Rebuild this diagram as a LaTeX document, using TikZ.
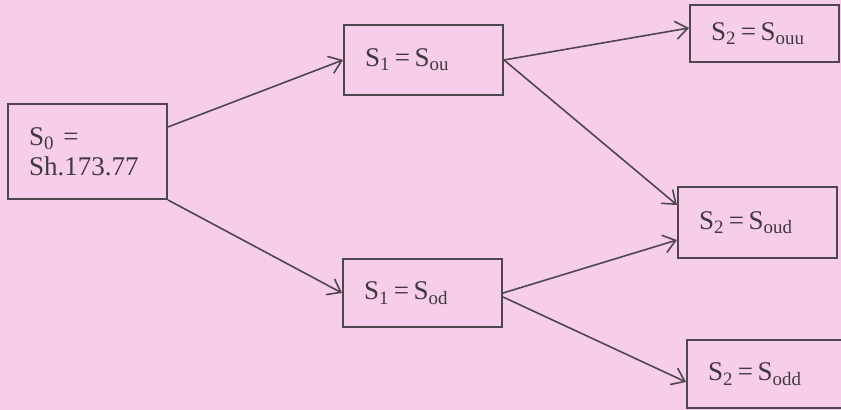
\documentclass[tikz,border=0pt]{standalone}
\usepackage{fontspec}
\setmainfont{Liberation Serif}
\usetikzlibrary{arrows.meta}
\definecolor{paper}{RGB}{246,206,234}
\definecolor{ink}{RGB}{80,70,80}
\begin{document}
\begin{tikzpicture}[x=0.5pt, y=-0.5pt,
    statebox/.style={draw=ink, line width=1pt, rectangle, inner xsep=10.5pt, inner ysep=0pt,
        align=left, text=ink!80!black, font=\fontsize{13.5}{15}\selectfont},
    link/.style={draw=ink, line width=0.8pt, -{Straight Barb[length=6pt,width=9pt]}}]

        % Background
        \useasboundingbox (0,0) rectangle (841,410);
        \fill[paper] (0,0) rectangle (841,410);
        \clip (0,0) rectangle (841,410);

        % Initial state
        \node[statebox, text width=58.5pt, minimum height=47.5pt] (s0) at (87.5,151.5) {S\textsubscript{0} =\\Sh.173.77};

        % First step
        \node[statebox, text width=58.5pt, minimum height=35pt] (s1u) at (423.5,60) {S\textsubscript{1}\,=\,S\textsubscript{ou}};
        \node[statebox, text width=58.5pt, minimum height=34pt] (s1d) at (422.5,293) {S\textsubscript{1}\,=\,S\textsubscript{od}};

        % Second step
        \node[statebox, text width=53.5pt, minimum height=28.5pt] (s2uu) at (764.5,33.5) {S\textsubscript{2}\,=\,S\textsubscript{ouu}};
        \node[statebox, text width=58.5pt, minimum height=35.5pt] (s2ud) at (757.5,222.5) {S\textsubscript{2}\,=\,S\textsubscript{oud}};
        \node[statebox, text width=58.5pt, minimum height=34pt] (s2dd) at (766.5,374) {S\textsubscript{2}\,=\,S\textsubscript{odd}};

        % Branches
        \draw[link] ([yshift=12.25pt]s0.east) -- (s1u.west);
        \draw[link] (s0.south east) -- (s1d.west);
        \draw[link] (s1u.east) -- ([yshift=2.75pt]s2uu.west);
        \draw[link] (s1u.east) -- ([yshift=8.75pt]s2ud.west);
        \draw[link] (s1d.east) -- ([yshift=-8.75pt]s2ud.west);
        \draw[link] ([yshift=-2pt]s1d.east) -- ([yshift=-4pt]s2dd.west);

    \end{tikzpicture}
\end{document}
